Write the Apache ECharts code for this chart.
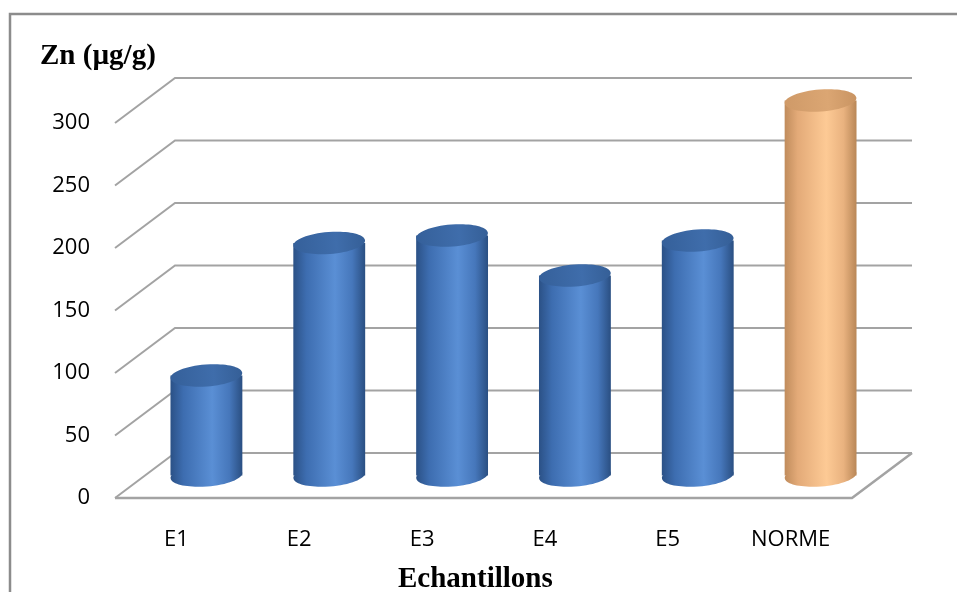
<!DOCTYPE html>
<html>
<head>
<meta charset="utf-8">
<script src="https://cdn.jsdelivr.net/npm/echarts@6/dist/echarts.min.js"></script>
<style>
  html, body { margin: 0; padding: 0; background: #ffffff; }
  #chart { width: 957px; height: 592px; }
</style>
</head>
<body>
<div id="chart"></div>
<script>
// Zinc content per sample, with the reference norm as the last bar
const categories = ['E1', 'E2', 'E3', 'E4', 'E5', 'NORME'];
const zincValues = [80, 186, 192, 160, 188, 300];
const yTicks = [0, 50, 100, 150, 200, 250, 300];
const yTitle = 'Zn (µg/g)';
const xTitle = 'Echantillons';

// Depth of the 3D box: offset from the front plane to the back wall (px)
const DEPTH = [60, -45];
const LINE = '#a3a3a3';

const palette = {
  blue: {
    body: [[0, '#2b5186'], [0.18, '#3d6db0'], [0.58, '#5a8fd5'], [0.82, '#4677bb'], [1, '#2a4f82']],
    top: [[0, '#35609a'], [0.6, '#3f6dab'], [1, '#355f97']]
  },
  tan: {
    body: [[0, '#c08c5c'], [0.18, '#e3aa78'], [0.58, '#fdca95'], [0.82, '#e9b27f'], [1, '#b98757']],
    top: [[0, '#cf9a68'], [0.6, '#dba673'], [1, '#c99462']]
  }
};

function grad(stops) {
  return new echarts.graphic.LinearGradient(0, 0, 1, 0,
    stops.map(s => ({ offset: s[0], color: s[1] })));
}

// Floor, left wall and back wall lines for every value tick
function renderWalls(params, api) {
  const cs = params.coordSys;
  const v = api.value(1);
  const y = api.coord([0, v])[1];
  const xl = cs.x, xr = cs.x + cs.width;
  const children = [{
    type: 'polyline',
    shape: { points: [[xl, y], [xl + DEPTH[0], y + DEPTH[1]], [xr + DEPTH[0], y + DEPTH[1]]] },
    style: { stroke: LINE, lineWidth: 2, fill: null }
  }];
  if (v === 0) {
    children.push({
      type: 'polyline',
      shape: { points: [[xl, y], [xr, y], [xr + DEPTH[0], y + DEPTH[1]]] },
      style: { stroke: LINE, lineWidth: 2.5, fill: null }
    });
  }
  return { type: 'group', children: children };
}

// Cylinder standing halfway into the depth of the box
function renderCylinder(params, api) {
  const i = api.value(0);
  const v = api.value(1);
  const top = api.coord([i, v]);
  const base = api.coord([i, 0]);
  const band = api.size([1, 0])[0];
  const w = band * 0.585;
  const cx = top[0] + DEPTH[0] / 2;
  const ty = top[1] + DEPTH[1] / 2;
  const by = base[1] + DEPTH[1] / 2;
  const ry = 11;
  const tilt = 0.08;
  const pal = categories[i] === 'NORME' ? palette.tan : palette.blue;
  return {
    type: 'group',
    children: [
      {
        type: 'ellipse',
        shape: { cx: cx, cy: by, rx: w / 2, ry: ry },
        rotation: tilt, originX: cx, originY: by,
        style: { fill: grad(pal.body) }
      },
      {
        type: 'rect',
        shape: { x: cx - w / 2, y: ty, width: w, height: by - ty },
        style: { fill: grad(pal.body) }
      },
      {
        type: 'ellipse',
        shape: { cx: cx, cy: ty, rx: w / 2, ry: ry },
        rotation: tilt, originX: cx, originY: ty,
        style: { fill: grad(pal.top) }
      }
    ]
  };
}

const chart = echarts.init(document.getElementById('chart'), null, { renderer: 'canvas' });

chart.setOption({
  animation: false,
  backgroundColor: '#ffffff',
  graphic: [{
    type: 'rect',
    shape: { x: 10, y: 14, width: 1000, height: 700 },
    style: { fill: null, stroke: '#8c8c8c', lineWidth: 2.5 },
    silent: true,
    z: -10
  }],
  title: [
    {
      text: yTitle, left: 35, top: 37,
      textStyle: { fontFamily: 'Liberation Serif', fontWeight: 'bold', fontSize: 29, color: '#000' }
    },
    {
      text: xTitle, left: 393, top: 560,
      textStyle: { fontFamily: 'Liberation Serif', fontWeight: 'bold', fontSize: 29, color: '#000' }
    }
  ],
  grid: { left: 115, right: 105, top: 123, bottom: 94 },
  xAxis: {
    type: 'category',
    data: categories,
    axisLine: { show: false },
    axisTick: { show: false },
    axisLabel: { fontFamily: 'Open Sans', fontSize: 22, color: '#000', margin: 31 },
    splitLine: { show: false }
  },
  yAxis: {
    type: 'value',
    min: 0, max: 300, interval: 50,
    axisLine: { show: false },
    axisTick: { show: false },
    splitLine: { show: false },
    axisLabel: { fontFamily: 'Open Sans', fontSize: 22, color: '#000', margin: 25 }
  },
  series: [
    {
      type: 'custom',
      name: 'walls',
      renderItem: renderWalls,
      data: yTicks.map(v => [0, v]),
      clip: false,
      silent: true,
      z: 1
    },
    {
      type: 'custom',
      name: 'Zn',
      renderItem: renderCylinder,
      data: zincValues.map((v, i) => [i, v]),
      clip: false,
      z: 2
    }
  ]
});
</script>
</body>
</html>
